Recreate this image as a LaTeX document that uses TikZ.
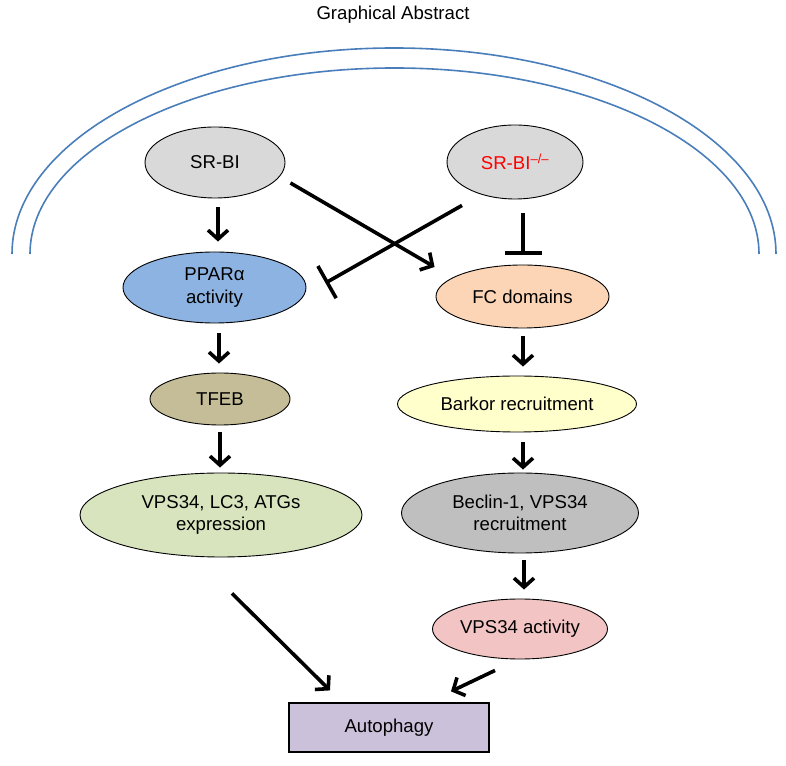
\documentclass[tikz,border=0pt]{standalone}
\usepackage{fontspec}
\setmainfont{Liberation Sans}
\usetikzlibrary{shapes.geometric,arrows.meta}
\definecolor{arcblue}{HTML}{4A7EBB}
\definecolor{srgray}{HTML}{D9D9D9}
\definecolor{pparblue}{HTML}{8DB3E2}
\definecolor{fcpeach}{HTML}{FBD5B5}
\definecolor{tfebtan}{HTML}{C4BD97}
\definecolor{barkoryellow}{HTML}{FFFFCC}
\definecolor{exprgreen}{HTML}{D7E4BD}
\definecolor{beclingray}{HTML}{BFBFBF}
\definecolor{actpink}{HTML}{F2C4C4}
\definecolor{autolilac}{HTML}{CCC1DA}

\begin{document}
\begin{tikzpicture}[x=1pt, y=1pt, font=\fontsize{18.6}{22.5}\selectfont,
  blob/.style={ellipse, draw, line width=0.9pt, align=center, inner sep=0pt},
  arr/.style={-{Straight Barb[length=9pt,width=20pt]}, line width=3.6pt},
  inh/.style={-{Bar[width=37pt]}, line width=3.6pt},
  membrane/.style={draw=arcblue, line width=1.6pt}]
\useasboundingbox (0,0) rectangle (786,765);
\node (title) at (393,750) {Graphical Abstract};
\draw[membrane] (12,511) arc[start angle=180, end angle=0, x radius=382pt, y radius=206pt];
\draw[membrane] (30,511) arc[start angle=180, end angle=0, x radius=364.5pt, y radius=186pt];
\node[blob, fill=srgray, minimum width=140pt, minimum height=71pt] (srbi) at (215,602.5) {SR-BI};
\node[blob, fill=srgray, minimum width=136pt, minimum height=74pt] (srbiko) at (515,603) {\textcolor{red}{SR-BI\textsuperscript{--/--}}};
\node[blob, fill=pparblue, minimum width=183pt, minimum height=71pt] (ppar) at (214.5,477.5) {PPARα\\activity};
\node[blob, fill=fcpeach, minimum width=173pt, minimum height=63pt] (fc) at (522.5,468.5) {FC domains};
\node[blob, fill=tfebtan, minimum width=140pt, minimum height=52pt] (tfeb) at (220,366) {TFEB};
\node[blob, fill=barkoryellow, minimum width=239pt, minimum height=56pt] (barkor) at (517,361) {Barkor recruitment};
\node[blob, fill=exprgreen, minimum width=282pt, minimum height=84pt] (vpsexp) at (221,250) {VPS34, LC3, ATGs\\expression};
\node[blob, fill=beclingray, minimum width=237pt, minimum height=80pt] (beclin) at (520,252) {Beclin-1, VPS34\\recruitment};
\node[blob, fill=actpink, minimum width=175pt, minimum height=60pt] (vpsact) at (520,136) {VPS34 activity};
\node[draw, line width=1.2pt, fill=autolilac, minimum width=200pt, minimum height=49pt] (auto) at (389,37.5) {Autophagy};
\draw[arr] ([xshift=3pt,yshift=-9pt]srbi.south) -- ([xshift=3.5pt,yshift=10pt]ppar.north);
\draw[arr] ([xshift=4.5pt,yshift=-10pt]ppar.south) -- ([xshift=-1pt,yshift=9pt]tfeb.north);
\draw[arr] ([yshift=-7pt]tfeb.south) -- ([xshift=-1pt,yshift=5pt]vpsexp.north);
\draw[arr] ([xshift=0.5pt,yshift=-8pt]fc.south) -- ([xshift=6pt,yshift=9pt]barkor.north);
\draw[arr] ([xshift=6pt,yshift=-10pt]barkor.south) -- ([xshift=3pt,yshift=3pt]beclin.north);
\draw[arr] ([xshift=4pt,yshift=-7pt]beclin.south) -- ([xshift=4pt,yshift=9pt]vpsact.north);
\draw[arr] ([shift={(5,-20.5)}]srbi.east) -- ([shift={(-1,29.5)}]fc.west);
\draw[inh] ([shift={(-53,-6)}]srbiko.south) -- ([shift={(19,4.5)}]ppar.east);
\draw[inh] ([shift={(8,-14)}]srbiko.south) -- ([shift={(0.5,10)}]fc.north);
\draw[arr] ([shift={(11,-36)}]vpsexp.south) -- ([shift={(-59,12)}]auto.north);
\draw[arr] ([shift={(-25,-11)}]vpsact.south) -- ([shift={(62,11)}]auto.north);
\end{tikzpicture}
\end{document}
